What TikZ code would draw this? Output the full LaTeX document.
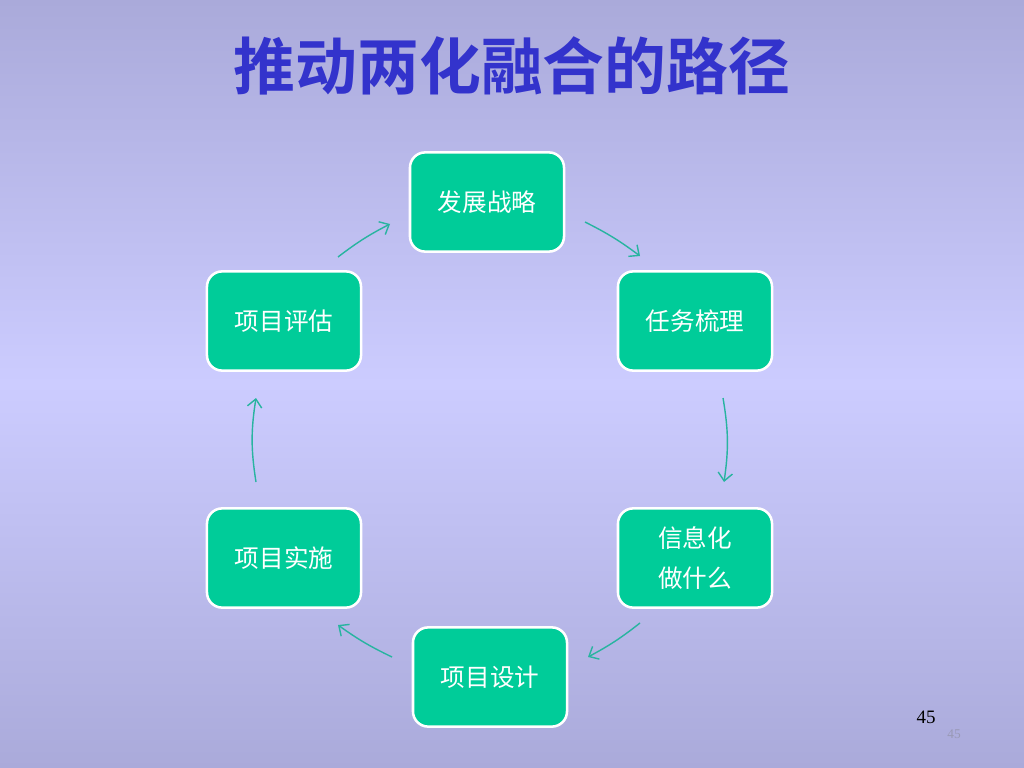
\documentclass[tikz,border=0pt]{standalone}
\usepackage{fontspec}
\usetikzlibrary{arrows.meta}
\newfontfamily\cjk{Noto Sans CJK SC}
\newfontfamily\cjkbold{Noto Sans CJK SC Bold}
\newfontfamily\numfont{Liberation Serif}
\definecolor{slideTop}{RGB}{170,170,218}
\definecolor{slideMid}{RGB}{204,204,255}
\definecolor{boxTeal}{RGB}{0,204,153}
\definecolor{arrowTeal}{RGB}{40,180,160}
\definecolor{titleBlue}{RGB}{51,51,204}
\begin{document}
\begin{tikzpicture}
        [x=0.025cm, y=-0.025cm,
        box/.style={rectangle, rounded corners=0.38cm, draw=white, line width=1.8pt, fill=boxTeal,
            minimum width=3.85cm, minimum height=2.48cm, text=white, align=center,
            font=\cjk\fontsize{17.5}{29}\selectfont},
        link/.style={arrowTeal, line width=1pt, -{Straight Barb[length=2mm, width=3.6mm]}},
        linkSide/.style={link, bend left=9},
        linkDiag/.style={link, bend left=5}]
        % background and frame
        \shade[top color=slideTop, bottom color=slideTop, middle color=slideMid] (0,0) rectangle (1024,768);
        \node[titleBlue, font=\cjkbold\fontsize{44}{50}\selectfont] (title) at (512,66) {推动两化融合的路径};

        \node[box] (S) at (487,202) {发展战略};
        \node[box] (T) at (695,321) {任务梳理};
        \node[box] (I) at (695,558) {信息化\\做什么};
        \node[box] (D) at (490,677) {项目设计};
        \node[box] (R) at (284,558) {项目实施};
        \node[box] (E) at (284,321) {项目评估};

        % arrow ends
        \coordinate (e1) at (338,257); \coordinate (s1) at (390,224);
        \coordinate (s2) at (585,222); \coordinate (t1) at (640,256);
        \coordinate (t2) at (723,398); \coordinate (i1) at (724,482);
        \coordinate (i2) at (640,623); \coordinate (d1) at (588,657);
        \coordinate (d2) at (392,657); \coordinate (r1) at (338,625);
        \coordinate (r2) at (256,482); \coordinate (e2) at (256,398);

        \draw[linkDiag] (e1) to (s1);
        \draw[linkDiag] (s2) to (t1);
        \draw[linkSide] (t2) to (i1);
        \draw[linkDiag] (i2) to (d1);
        \draw[linkDiag] (d2) to (r1);
        \draw[linkSide] (r2) to (e2);

        \node[font=\numfont\fontsize{13.5}{15}\selectfont] (page) at (926,717) {45};
        \node[font=\numfont\fontsize{9.5}{11}\selectfont, text=slideTop!60!gray] (pagesmall) at (954,734) {45};
    \end{tikzpicture}
\end{document}
